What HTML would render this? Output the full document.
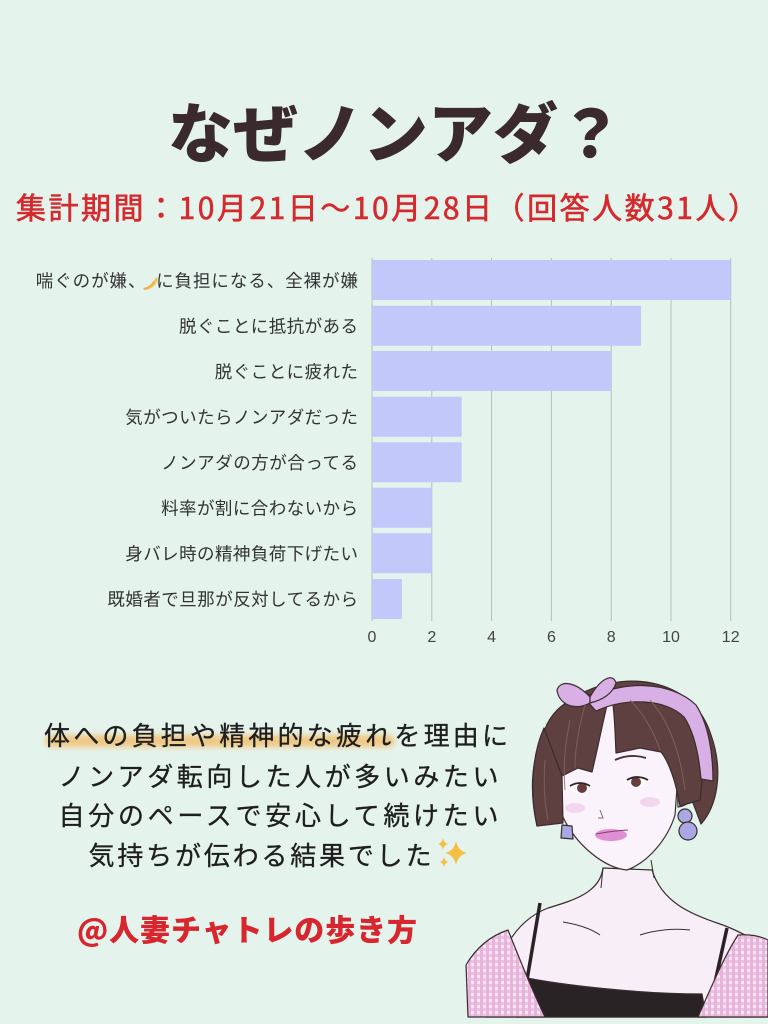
<!DOCTYPE html>
<html><head><meta charset="utf-8">
<style>
html,body{margin:0;padding:0;background:#e4f3ec;}
svg{display:block;}
text{font-family:"Liberation Sans","Noto Sans CJK JP",sans-serif;}
.jp{font-family:"Noto Sans CJK JP","Liberation Sans",sans-serif;}
</style></head>
<body>
<svg width="768" height="1024" viewBox="0 0 768 1024" xmlns="http://www.w3.org/2000/svg">
<defs>
  <filter id="blur" x="-10%" y="-100%" width="120%" height="300%"><feGaussianBlur stdDeviation="3"/></filter>
  <pattern id="check" width="6" height="6" patternUnits="userSpaceOnUse">
    <rect width="6" height="6" fill="#f6e6f2"/>
    <rect width="3" height="6" fill="#e9b3dc"/>
    <rect width="6" height="3" fill="#e9b3dc" opacity="0.7"/>
  </pattern>
</defs>
<rect width="768" height="1024" fill="#e4f3ec"/>

<!-- Title -->
<text class="jp" x="168" y="157" font-size="65" font-weight="900" fill="#3b2a2d">なぜノンアダ？</text>
<text class="jp" x="16" y="219" font-size="30" font-weight="400" fill="#d42a2e" stroke="#d42a2e" stroke-width="0.6" textLength="742" lengthAdjust="spacing">集計期間：10月21日～10月28日（回答人数31人）</text>

<!-- Gridlines -->
<g stroke="#b6bfba" stroke-width="1">
  <line x1="372" y1="258" x2="372" y2="621"/>
  <line x1="431.8" y1="258" x2="431.8" y2="621"/>
  <line x1="491.6" y1="258" x2="491.6" y2="621"/>
  <line x1="551.4" y1="258" x2="551.4" y2="621"/>
  <line x1="611.2" y1="258" x2="611.2" y2="621"/>
  <line x1="671" y1="258" x2="671" y2="621"/>
  <line x1="730.7" y1="258" x2="730.7" y2="621"/>
</g>
<!-- Bars -->
<g fill="#c3c8fa">
  <rect x="372" y="260" width="358.7" height="40" rx="1"/>
  <rect x="372" y="305.7" width="269" height="40" rx="1"/>
  <rect x="372" y="351" width="239.2" height="40" rx="1"/>
  <rect x="372" y="396.7" width="89.7" height="40" rx="1"/>
  <rect x="372" y="442.3" width="89.7" height="40" rx="1"/>
  <rect x="372" y="487.7" width="59.8" height="40" rx="1"/>
  <rect x="372" y="533.3" width="59.8" height="40" rx="1"/>
  <rect x="372" y="579" width="29.9" height="40" rx="1"/>
</g>
<!-- Labels -->
<g class="jp" font-size="17.5" fill="#333">
  <text x="35.8" y="287" textLength="322.2" lengthAdjust="spacing">喘ぐのが嫌、　に負担になる、全裸が嫌</text>
  <text x="179" y="332.5" textLength="179" lengthAdjust="spacing">脱ぐことに抵抗がある</text>
  <text x="214.8" y="378" textLength="143.2" lengthAdjust="spacing">脱ぐことに疲れた</text>
  <text x="125.3" y="423.5" textLength="232.7" lengthAdjust="spacing">気がついたらノンアダだった</text>
  <text x="161.1" y="469" textLength="196.9" lengthAdjust="spacing">ノンアダの方が合ってる</text>
  <text x="161.1" y="514.5" textLength="196.9" lengthAdjust="spacing">料率が割に合わないから</text>
  <text x="125.3" y="560" textLength="232.7" lengthAdjust="spacing">身バレ時の精神負荷下げたい</text>
  <text x="107.4" y="605.5" textLength="250.6" lengthAdjust="spacing">既婚者で旦那が反対してるから</text>
</g>
<!-- banana-ish icon -->
<path d="M143,288 C149,287 154,283 156,277 L158,279 C156,286 150,290 144,290 Z" fill="#f2c24e"/>
<path d="M144,289 C148,288 152,285 154,281" stroke="#e8a83a" stroke-width="1" fill="none"/>

<!-- Tick labels -->
<g font-size="16" fill="#444" text-anchor="middle">
  <text x="372" y="642">0</text>
  <text x="431.8" y="642">2</text>
  <text x="491.6" y="642">4</text>
  <text x="551.4" y="642">6</text>
  <text x="611.2" y="642">8</text>
  <text x="671" y="642">10</text>
  <text x="730.7" y="642">12</text>
</g>

<!-- Highlight -->
<rect x="45" y="735" width="350" height="12" rx="6" fill="#f3c06f" opacity="0.85" filter="url(#blur)"/>

<!-- Body text -->
<g class="jp" font-size="26" fill="#1e1e1e" stroke="#1e1e1e" stroke-width="0.3">
  <text x="44" y="745" textLength="464" lengthAdjust="spacing">体への負担や精神的な疲れを理由に</text>
  <text x="58.5" y="786" textLength="440" lengthAdjust="spacing">ノンアダ転向した人が多いみたい</text>
  <text x="58.5" y="825" textLength="440" lengthAdjust="spacing">自分のペースで安心して続けたい</text>
  <text x="88.5" y="865" textLength="343" lengthAdjust="spacing">気持ちが伝わる結果でした</text>
</g>
<!-- sparkles -->
<g fill="#f5bf45">
  <path d="M456,841 Q458,851 467,853 Q458,855 456,865 Q454,855 445,853 Q454,851 456,841 Z"/>
  <path d="M443,838 Q444,843 448,844 Q444,845 443,850 Q442,845 438,844 Q442,843 443,838 Z"/>
  <path d="M444,857 Q445,861 448,862 Q445,863 444,867 Q443,863 440,862 Q443,861 444,857 Z"/>
</g>

<!-- Handle -->
<text class="jp" x="77" y="941" font-size="30" font-weight="900" fill="#d8262f" textLength="340" lengthAdjust="spacing">@人妻チャトレの歩き方</text>

<!-- Illustration -->
<g stroke="#3b2c2e" stroke-width="1.2" stroke-linejoin="round">
  <!-- body skin -->
  <path d="M603,868 C600,892 575,900 548,908 C522,918 506,940 496,970 L486,1017 L768,1017 L768,948 C748,936 732,928 720,924 C690,914 662,902 652,870 Z" fill="#f8eef8"/>
  <!-- camisole -->
  <path d="M522,977 C560,985 640,994 702,994 L706,1017 L516,1017 Z" fill="#2a2326"/>
  <line x1="540" y1="903" x2="527" y2="980" stroke="#2a2326" stroke-width="3.5"/>
  <line x1="727" y1="928" x2="712" y2="996" stroke="#2a2326" stroke-width="3.5"/>
  <!-- cardigan -->
  <path d="M468,1017 L466,965 C476,948 490,936 508,930 C520,960 532,990 545,1017 Z" fill="url(#check)"/>
  <path d="M698,1017 C712,985 725,955 738,935 C750,934 760,936 768,940 L768,1017 Z" fill="url(#check)"/>
  <!-- collarbones -->
  <path d="M563,922 C575,924 590,928 600,935" fill="none" stroke-width="1"/>
  <path d="M640,935 C655,930 675,928 690,930" fill="none" stroke-width="1"/>
  <!-- hair back dome -->
  <path d="M537,826 C525,772 536,716 584,692 C630,670 694,680 711,735 C724,772 717,806 701,824 L690,795 L560,795 Z" fill="#5f4040"/>
  <!-- face -->
  <path d="M560,760 L562,815 C576,846 605,868 627,870 C649,862 668,838 675,815 L679,760 C670,735 640,703 614,700 C593,705 568,728 560,760 Z" fill="#fbf3fb"/>
  <!-- ear -->
  <path d="M677,770 C690,758 702,770 698,786 C695,798 688,806 678,807 Z" fill="#fbf3fb"/>
  <!-- bangs left -->
  <path d="M543,735 C552,702 585,688 609,697 C602,725 597,752 592,772 L578,768 L562,776 C555,762 548,750 543,735 Z" fill="#5f4040"/>
  <!-- bangs right -->
  <path d="M612,697 C645,686 696,698 706,742 L700,800 L680,806 C676,782 669,762 661,752 L640,748 L616,753 C615,734 615,716 612,697 Z" fill="#5f4040"/>
  <!-- left side hair -->
  <path d="M537,826 C529,790 533,752 544,728 L562,776 L563,823 Z" fill="#5f4040"/>
  <!-- headband -->
  <path d="M586,700 C620,680 670,680 696,705 C709,725 713,755 713,781 L701,779 C699,756 694,732 684,717 C666,699 627,697 596,711 Z" fill="#d8b0e6"/>
  <path d="M590,697 C575,681 560,680 557,690 C559,705 575,711 590,703 Z" fill="#d8b0e6"/>
  <path d="M590,697 C600,679 613,672 616,683 C613,693 603,700 590,703 Z" fill="#d8b0e6"/>
  <!-- earrings -->
  <circle cx="685" cy="816" r="7" fill="#a9a8e2"/>
  <circle cx="688" cy="831" r="9" fill="#a9a8e2"/>
  <path d="M562,825 L572,826 L573,839 L561,838 Z" fill="#a9a8e2"/>
</g>
<!-- hair highlights -->
<g stroke="#8a6464" stroke-width="1" fill="none" opacity="0.8">
  <path d="M570,720 C565,745 563,765 565,790"/>
  <path d="M585,705 C578,730 575,750 575,768"/>
  <path d="M630,700 C645,715 655,735 660,750"/>
  <path d="M650,700 C668,720 680,750 685,790"/>
  <path d="M545,760 C543,785 545,805 548,820"/>
</g>
<!-- face details -->
<g>
  <ellipse cx="575" cy="808" rx="10" ry="5" fill="#f3cdee" opacity="0.8"/>
  <ellipse cx="650" cy="802" rx="10" ry="5" fill="#f3cdee" opacity="0.8"/>
  <ellipse cx="580" cy="788" rx="9" ry="5.5" fill="#fff"/>
  <circle cx="582" cy="788" r="5" fill="#6a3e3e"/>
  <path d="M570,786 Q580,780 590,786" stroke="#2e2224" stroke-width="1.8" fill="none"/>
  <ellipse cx="637" cy="782" rx="9" ry="5.5" fill="#fff"/>
  <circle cx="636" cy="782" r="5" fill="#6a3e3e"/>
  <path d="M627,780 Q637,774 648,780" stroke="#2e2224" stroke-width="1.8" fill="none"/>
  <path d="M615,760 Q630,753 646,758" stroke="#4a3232" stroke-width="1.8" fill="none"/>
  <path d="M600,810 L603,818 L598,818" stroke="#8a6a6a" stroke-width="1" fill="none"/>
  <ellipse cx="611" cy="835" rx="16" ry="6" fill="#e08fd4"/>
  <path d="M596,834 Q611,831 628,830" stroke="#8a3f6a" stroke-width="1" fill="none"/>
  <path d="M603,868 L601,888 M651,860 L654,878" stroke="#3b2c2e" stroke-width="1" fill="none"/>
</g>
</svg>
</body></html>
